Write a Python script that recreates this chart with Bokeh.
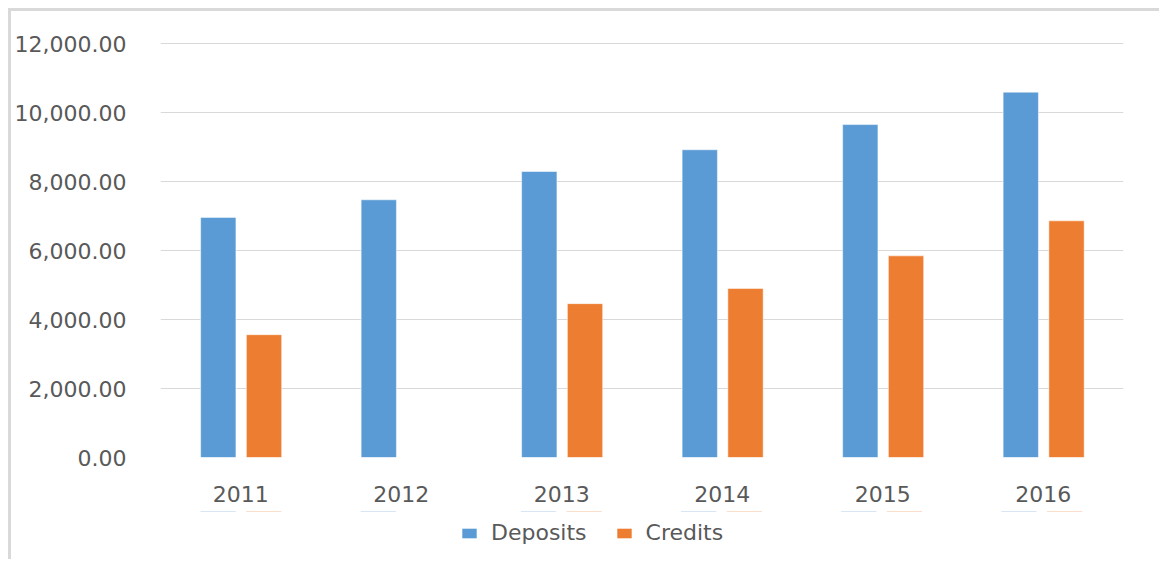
from bokeh.plotting import figure
from bokeh.models import ColumnDataSource, NumeralTickFormatter, Legend, LegendItem, Range1d
from bokeh.layouts import column
from bokeh.transform import dodge
from bokeh.embed import file_html
from bokeh.resources import INLINE

years = ["2011", "2012", "2013", "2014", "2015", "2016"]
deposits = [6960, 7470, 8290, 8920, 9650, 10590]
credits = [3560, float("nan"), 4460, 4900, 5845, 6860]
y_ticks = [0, 2000, 4000, 6000, 8000, 10000, 12000]
series = ["Deposits", "Credits"]
fields = ["deposits", "credits"]
offsets = [-0.14, 0.145]
colors = ["#5b9bd5", "#ed7d31"]

src = ColumnDataSource(dict(year=years, deposits=deposits, credits=credits))

FONT = "DejaVu Sans"
TXT = "#595959"

p = figure(x_range=years, y_range=Range1d(0, 12029), frame_width=963, frame_height=415,
           output_backend="svg", toolbar_location=None,
           min_border_left=147, min_border_right=36, min_border_top=31, min_border_bottom=54)
p.outline_line_color = None
p.x_range.range_padding = 0

for f, off, c in zip(fields, offsets, colors):
    p.vbar(x=dodge("year", off, range=p.x_range), top=f, width=0.22, source=src,
           fill_color=c, line_color="#ffffff", line_alpha=0.5)

p.yaxis.ticker = y_ticks
p.yaxis.formatter = NumeralTickFormatter(format="0,0.00")
for ax in (p.xaxis[0], p.yaxis[0]):
    ax.axis_line_color = None
    ax.major_tick_line_color = None
    ax.minor_tick_line_color = None
    ax.major_label_text_font = FONT
    ax.major_label_text_font_size = "22px"
    ax.major_label_text_color = TXT
p.yaxis.major_label_standoff = 28
p.xaxis.major_label_standoff = 22

p.ygrid.grid_line_color = "#d9d9d9"
p.ygrid.grid_line_width = 1
p.xgrid.grid_line_color = None

# legend strip below the chart (shares data; its y-range keeps the bars out of view)
lf = figure(width=1146, height=48, x_range=p.x_range, y_range=Range1d(-20000, -10000),
            x_axis_type=None, y_axis_type=None, output_backend="svg", toolbar_location=None,
            min_border=0)
lf.outline_line_color = None
lf.grid.visible = False
items = []
for name, f, off, c in zip(series, fields, offsets, colors):
    r = lf.vbar(x=dodge("year", off, range=p.x_range), top=f, width=0.22, source=src,
                fill_color=c, line_color=None)
    items.append(LegendItem(label=name, renderers=[r]))

legend = Legend(items=items, orientation="horizontal", location=(300, 14),
                glyph_width=18, glyph_height=12, label_standoff=13, spacing=28,
                padding=0, margin=0, border_line_color=None, background_fill_alpha=0,
                label_text_font=FONT, label_text_font_size="22px", label_text_color=TXT,
                label_height=20)
lf.add_layout(legend, "center")

layout = column(p, lf, spacing=0,
                styles={"border-left": "3px solid #d9d9d9", "border-top": "3px solid #d9d9d9",
                        "margin-left": "8px", "margin-top": "8px"})

open("out.html", "w").write(file_html(layout, INLINE))
